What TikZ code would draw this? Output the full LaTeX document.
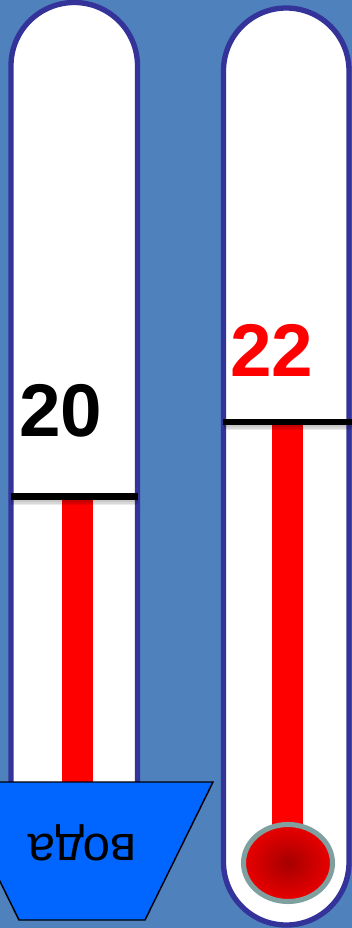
\documentclass[tikz,border=0pt]{standalone}
\usepackage{fontspec}
\setmainfont{Liberation Sans}
\usetikzlibrary{positioning}
\definecolor{bgblue}{RGB}{79,129,189}
\definecolor{tubeblue}{RGB}{51,51,153}
\definecolor{waterblue}{RGB}{0,102,255}
\definecolor{bulbgray}{RGB}{128,160,160}
\definecolor{bulbdark}{RGB}{165,0,0}
\definecolor{bulbred}{RGB}{235,0,0}
\tikzset{
  tube/.style     = {draw=tubeblue, fill=white, line width=4pt},
  column/.style   = {fill=red, draw=none},
  mark line/.style= {draw=black, line width=5.2pt},
  shadowline/.style = {draw=black, line width=5pt, opacity=0.08},
  reading/.style  = {font=\fontsize{56}{60}\selectfont\bfseries, inner sep=0pt},
  vessel/.style   = {fill=waterblue, draw=black, line width=1.1pt},
}

\begin{document}
\begin{tikzpicture}[x=0.75pt, y=-0.75pt]

    %% ===================== BACKGROUND =====================
    \fill[bgblue] (0,0) rectangle (352,928);
    \useasboundingbox (0,0) rectangle (352,928);

    %% ===================== LEFT THERMOMETER =====================
    \draw[tube] (11,835) -- (11,65.75)
         arc[start angle=180, end angle=360, radius=63.25]
         -- (137.5,835) arc[start angle=0, end angle=180, radius=63.25] -- cycle;
    \fill[column] (62,497) rectangle (93,800);
    \foreach \d in {2,3.5,5} {
      \draw[shadowline] (11,496.7+\d) -- (137.7,496.7+\d);
    }
    \draw[mark line] (10.7,496.7) -- (137.7,496.7);
    \node[reading, text=black] (leftval) at (61,410.5) {20};

    %% water vessel
    \draw[vessel] (-49,782) -- (213,782) -- (145,920) -- (19,920) -- cycle;
    \node[font=\fontsize{37}{40}\selectfont, rotate=180, inner sep=0pt]
         (water) at (82,843) {вода};

    %% ===================== RIGHT THERMOMETER =====================
    \draw[tube] (223.5,862.25) -- (223.5,70.75)
         arc[start angle=180, end angle=360, radius=62.75]
         -- (349,862.25) arc[start angle=0, end angle=180, radius=62.75] -- cycle;
    \fill[column] (272,422) rectangle (303,835);
    \foreach \d in {2,3.5,5} {
      \draw[shadowline] (224,422+\d) -- (352,422+\d);
    }
    \draw[mark line] (223,422) -- (352,422);
    \node[reading, text=red] (rightval) at (272,350.5) {22};

    %% bulb
    \draw[bulbgray, line width=3.8pt, inner color=bulbdark, outer color=bulbred]
         (288,863) ellipse[x radius=44.5, y radius=38.5];

  \end{tikzpicture}
\end{document}
